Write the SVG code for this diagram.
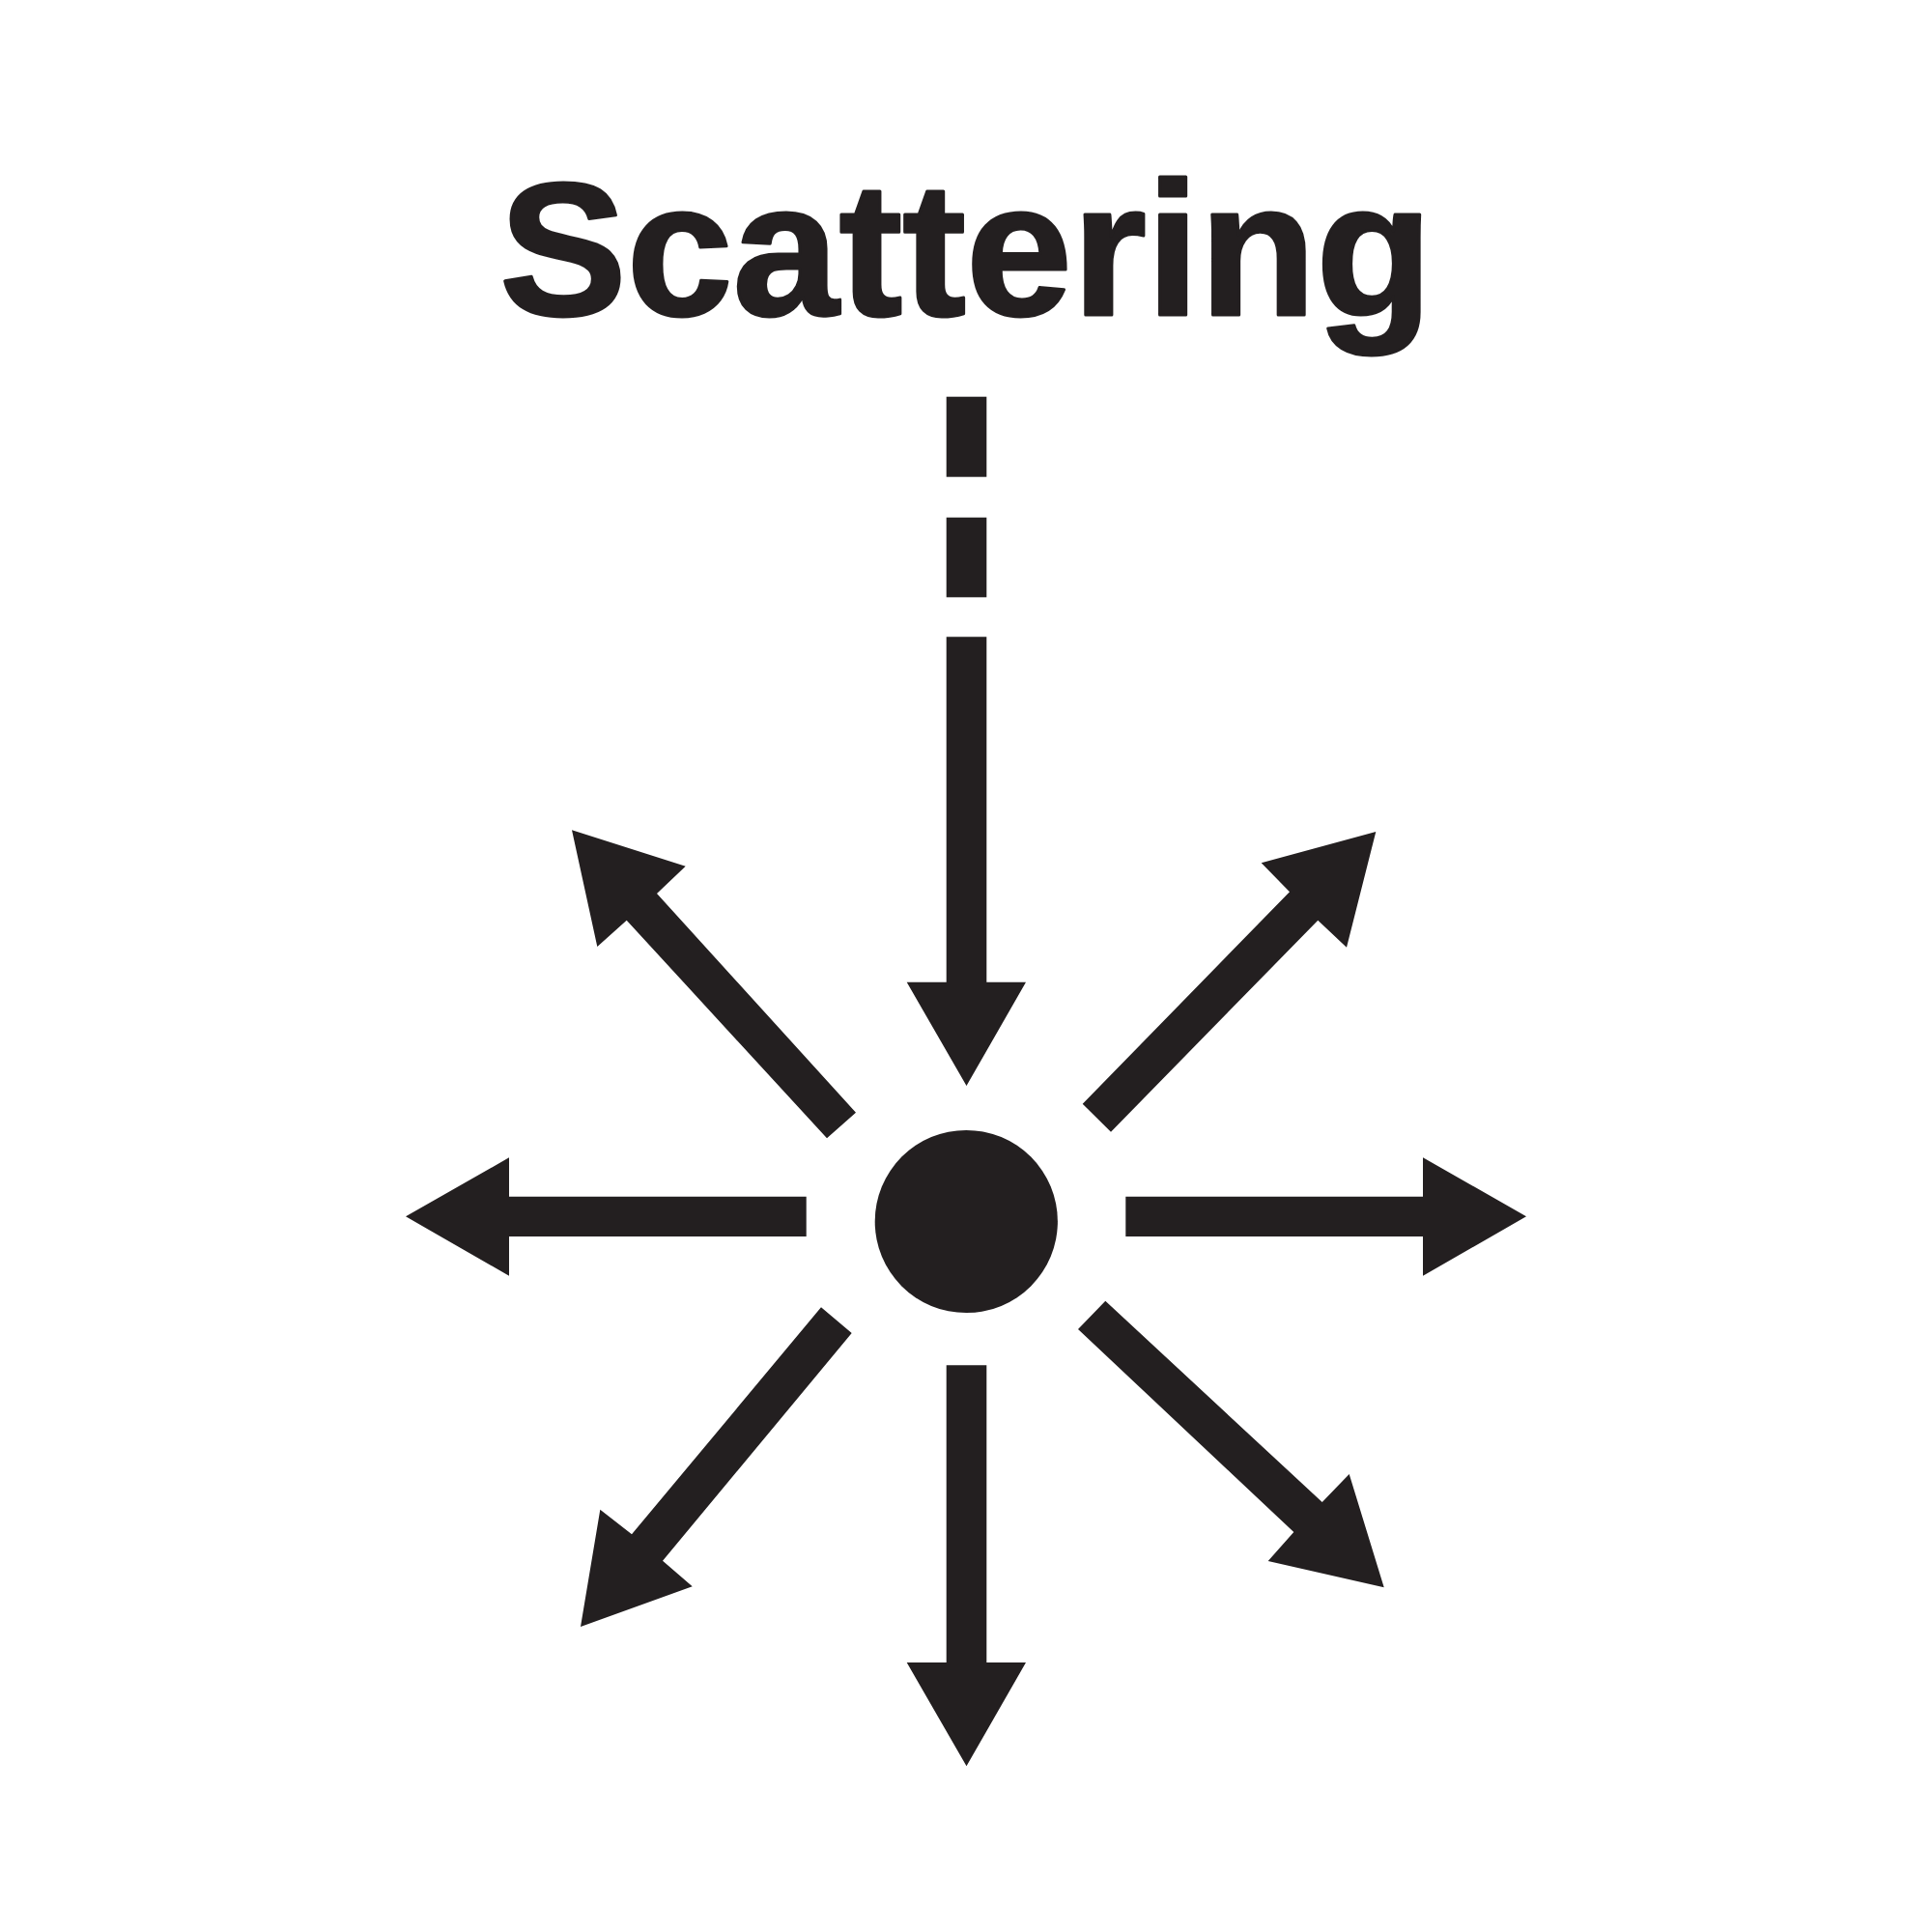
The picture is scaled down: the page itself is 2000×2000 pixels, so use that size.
<svg xmlns="http://www.w3.org/2000/svg" width="2000" height="2000" viewBox="0 0 2000 2000">
<style>
.ink{fill:#231f20;stroke:none}
.title{font-family:"Liberation Sans",Arial,sans-serif;font-weight:bold;font-size:196px;fill:#231f20;stroke:#231f20;stroke-width:3;stroke-linejoin:round}
</style>
<rect width="2000" height="2000" fill="#ffffff"/>
<g id="title">
<text class="title" x="1000" y="326" text-anchor="middle" textLength="966" lengthAdjust="spacingAndGlyphs">Scattering</text>
</g>
<g id="particle">
<circle class="ink" cx="1000.3" cy="1264.5" r="94.6"/>
</g>
<g id="connectors">
<g id="incoming">
<rect class="ink" x="979.7" y="410.7" width="41.6" height="83"/>
<rect class="ink" x="979.7" y="535.7" width="41.6" height="82.6"/>
<polygon class="ink" points="979.7,659.3 1021.3,659.3 1021.3,1016.7 1062,1016.7 1000.5,1124 938.7,1016.7 979.7,1016.7"/>
</g>
<polygon id="out-left" class="ink" points="834.7,1238.7 834.7,1280 527,1280 527,1320.7 420,1259.3 527,1198.3 527,1238.7"/>
<polygon id="out-right" class="ink" points="1165.3,1238.7 1473,1238.7 1473,1198.3 1580,1259.3 1473,1320.7 1473,1280 1165.3,1280"/>
<polygon id="out-down" class="ink" points="979.7,1413.3 1021.3,1413.3 1021.3,1721 1062,1721 1000.5,1828.3 938.7,1721 979.7,1721"/>
<polygon id="out-nw" class="ink" points="886,1151.7 856,1178.3 648.7,952.7 618.3,980 592,859.3 709.7,896.7 680,925"/>
<polygon id="out-ne" class="ink" points="1120.7,1142.7 1335,923.3 1305.7,893.3 1424.3,861 1394,980.7 1364.3,952.7 1150,1171.7"/>
<polygon id="out-sw" class="ink" points="850,1353.3 881.7,1380 686,1615.7 716.7,1642.3 601,1684 621.3,1562.7 654,1588.3"/>
<polygon id="out-se" class="ink" points="1144.3,1346.7 1368.7,1555 1396.7,1526 1432.7,1643.3 1312.7,1616 1339.3,1586 1116,1376"/>
</g>
</svg>
